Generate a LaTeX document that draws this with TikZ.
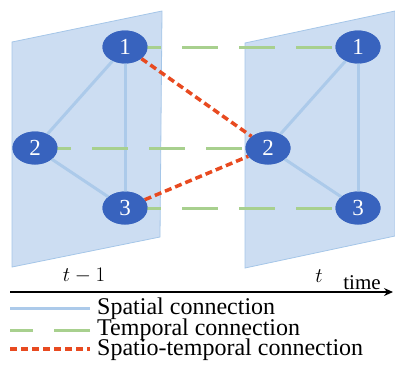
\documentclass[tikz,border=0pt]{standalone}
\usepackage{fontspec}
\setmainfont{Liberation Serif}
\usetikzlibrary{shapes.geometric, arrows.meta}

\definecolor{plane}{RGB}{204,221,242}
\definecolor{planeedge}{RGB}{165,198,232}
\definecolor{spatial}{RGB}{172,202,234}
\definecolor{temporal}{RGB}{168,208,142}
\definecolor{spatemp}{RGB}{232,74,32}
\definecolor{vertex}{RGB}{56,99,190}

\begin{document}
\begin{tikzpicture}[x=1pt, y=-1pt,
	vtx/.style={ellipse, fill=vertex, text=white, minimum width=45pt, minimum height=33pt, inner sep=0pt, font=\fontsize{23}{23}\selectfont},
	sp/.style={spatial, line width=3pt},
	tp/.style={temporal, line width=3pt, dash pattern=on 36pt off 21pt},
	st/.style={spatemp, line width=3.5pt, dash pattern=on 7pt off 4pt},
	lbl/.style={anchor=west, inner sep=0pt, text height=15pt, text depth=3pt, font=\fontsize{24}{26}\selectfont}]

	\useasboundingbox (0,0) rectangle (395,365);

	% the two frames
	\filldraw[fill=plane, draw=planeedge, line width=0.8pt] (12,42) -- (162,11) -- (160,237) -- (12,267) -- cycle;
	\filldraw[fill=plane, draw=planeedge, line width=0.8pt] (245,43) -- (395,11) -- (395,236) -- (245,268) -- cycle;

	% frame t-1
	\node[vtx] (a1) at (125,47) {1};
	\node[vtx] (a2) at (35,148) {2};
	\node[vtx] (a3) at (125,208) {3};
	% frame t
	\node[vtx] (b1) at (358,47) {1};
	\node[vtx] (b2) at (268,148) {2};
	\node[vtx] (b3) at (358,208) {3};

	\draw[sp] (a1.center) -- (a2.center);
	\draw[sp] (a1.center) -- (a3.center);
	\draw[sp] (a2.center) -- (a3.center);
	\draw[sp] (b1.center) -- (b2.center);
	\draw[sp] (b1.center) -- (b3.center);
	\draw[sp] (b2.center) -- (b3.center);

	\draw[tp] (a1.center) -- (b1.center);
	\draw[tp] (a2.center) -- (b2.center);
	\draw[tp] (a3.center) -- (b3.center);

	\draw[st] (a1) -- (b2);
	\draw[st] (a3) -- (b2);

	% nodes again on top of the edges
	\foreach \n/\x/\y in {1/125/47, 2/35/148, 3/125/208}
		\node[vtx] at (\x,\y) {\n};
	\foreach \n/\x/\y in {1/358/47, 2/268/148, 3/358/208}
		\node[vtx] at (\x,\y) {\n};

	% time axis
	\node[font=\fontsize{22}{22}\selectfont] (tm1) at (84,276) {$t-1$};
	\node[font=\fontsize{22}{22}\selectfont] (tt) at (319,276) {$t$};
	\coordinate (ax0) at (10,292);
	\coordinate (ax1) at (393,292);
	\draw[line width=1.2pt, -{Stealth[length=9pt, width=8pt]}] (ax0) -- (ax1);
	\node[font=\fontsize{21}{21}\selectfont, anchor=base] (tlab) at (362,289) {time};

	% legend
	\coordinate (l1a) at (10,308); \coordinate (l1b) at (90,308);
	\coordinate (l2a) at (10,330); \coordinate (l2b) at (90,330);
	\coordinate (l3a) at (10,349); \coordinate (l3b) at (90,349);
	\draw[sp] (l1a) -- (l1b);
	\draw[tp] (l2b) -- (l2a);
	\draw[st] (l3a) -- (l3b);
	\node[lbl] (ltx1) at (97,308) {Spatial connection};
	\node[lbl] (ltx2) at (97,329) {Temporal connection};
	\node[lbl] (ltx3) at (97,349) {Spatio-temporal connection};

\end{tikzpicture}
\end{document}
